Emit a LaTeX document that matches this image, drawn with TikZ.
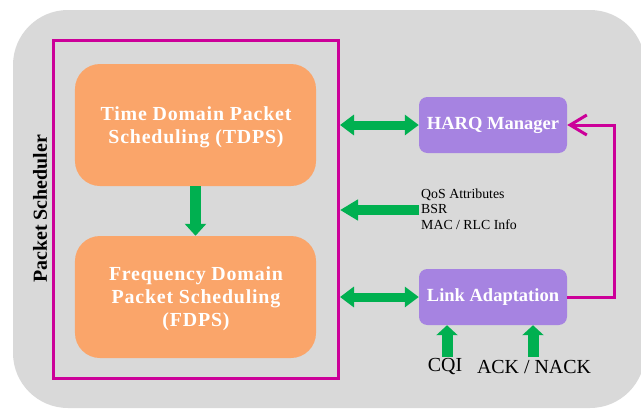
\documentclass[tikz,border=0pt]{standalone}
\usepackage{fontspec}
\setmainfont{Liberation Serif}
\usetikzlibrary{arrows.meta}
\definecolor{bggray}{RGB}{217,217,217}
\definecolor{magline}{RGB}{204,0,153}
\definecolor{orangebox}{RGB}{250,165,106}
\definecolor{purplebox}{RGB}{166,131,225}
\definecolor{greenarr}{RGB}{0,176,80}
\tikzset{
  orbox/.style={fill=orangebox, draw=none, rounded corners=0.75cm, minimum width=7.23cm, minimum height=3.66cm, align=center, text=white, font=\fontsize{17}{19.6}\selectfont\bfseries\addfontfeatures{LetterSpace=4}},
  pubox/.style={fill=purplebox, draw=none, rounded corners=0.25cm, minimum width=4.44cm, minimum height=1.68cm, align=center, text=white, font=\fontsize{15.8}{18}\selectfont\bfseries},
  dblarrow/.style={draw=greenarr, line width=0.27cm, {Triangle[width=0.6cm,length=0.42cm]}-{Triangle[width=0.6cm,length=0.42cm]}},
  leftarrow/.style={draw=greenarr, line width=0.3cm, -{Triangle[width=0.6cm,length=0.54cm]}},
  downarrow/.style={draw=greenarr, line width=0.33cm, -{Triangle[width=0.63cm,length=0.36cm]}},
  uparrow/.style={draw=greenarr, line width=0.33cm, -{Triangle[width=0.63cm,length=0.3cm]}},
  fbline/.style={draw=magline, line width=0.09cm, -{Straight Barb[width=0.6cm,length=0.5cm]}},
  lbl/.style={inner sep=0pt, font=\fontsize{17}{19}\selectfont}
}
\begin{document}
\begin{tikzpicture}[x=0.03cm, y=-0.03cm]
\useasboundingbox (0,0) rectangle (641,413);
\begin{scope}
\clip (0,0) rectangle (641,413);
\fill[bggray, rounded corners=1.65cm] (13,10) rectangle (645,408);
\end{scope}
% packet scheduler container
\node[draw=magline, line width=0.09cm, minimum width=8.55cm, minimum height=10.125cm, inner sep=0pt] (ps) at (196,209.75) {};
\node[rotate=90, font=\fontsize{17}{19}\selectfont\bfseries, inner sep=0pt] (pslabel) at (40,209) {Packet Scheduler};
% orange boxes
\node[orbox] (tdps) at (195.5,125) {};
\node[align=center, text=white, font=\fontsize{17}{19.6}\selectfont\bfseries\addfontfeatures{LetterSpace=4}] (tdpstext) at (196,127) {Time Domain Packet\\Scheduling (TDPS)};
\node[orbox] (fdps) at (195.5,297) {};
\node[align=center, text=white, font=\fontsize{17}{19.6}\selectfont\bfseries\addfontfeatures{LetterSpace=4}] (fdpstext) at (196,299) {Frequency Domain\\Packet Scheduling\\(FDPS)};
\draw[downarrow] (tdps.south) -- (fdps.north);
% purple boxes
\node[pubox] (harq) at (493,125) {HARQ Manager};
\node[pubox] (link) at (493,297) {Link Adaptation};
% double arrows
\draw[dblarrow] (ps.east |- harq.west) -- (harq.west);
\draw[dblarrow] (ps.east |- link.west) -- (link.west);
% info arrow
\node[anchor=west, align=left, inner sep=0pt, font=\fontsize{11.8}{13.2}\selectfont] (info) at (421,209) {QoS Attributes\\BSR\\MAC / RLC Info};
\coordinate (infoend) at (419,210);
\draw[leftarrow] (infoend) -- (ps.east |- infoend);
% feedback line
\coordinate (fb) at (614,125);
\draw[fbline] (link.east) -| (fb) -- (harq.east);
% inputs
\node[lbl] (cqi) at (445,367) {CQI};
\node[lbl] (ack) at (534,367) {ACK / NACK};
\coordinate (cqiin) at (447,357);
\coordinate (ackin) at (533,357);
\draw[uparrow] (cqiin) -- (cqiin |- link.south);
\draw[uparrow] (ackin) -- (ackin |- link.south);
\end{tikzpicture}
\end{document}
